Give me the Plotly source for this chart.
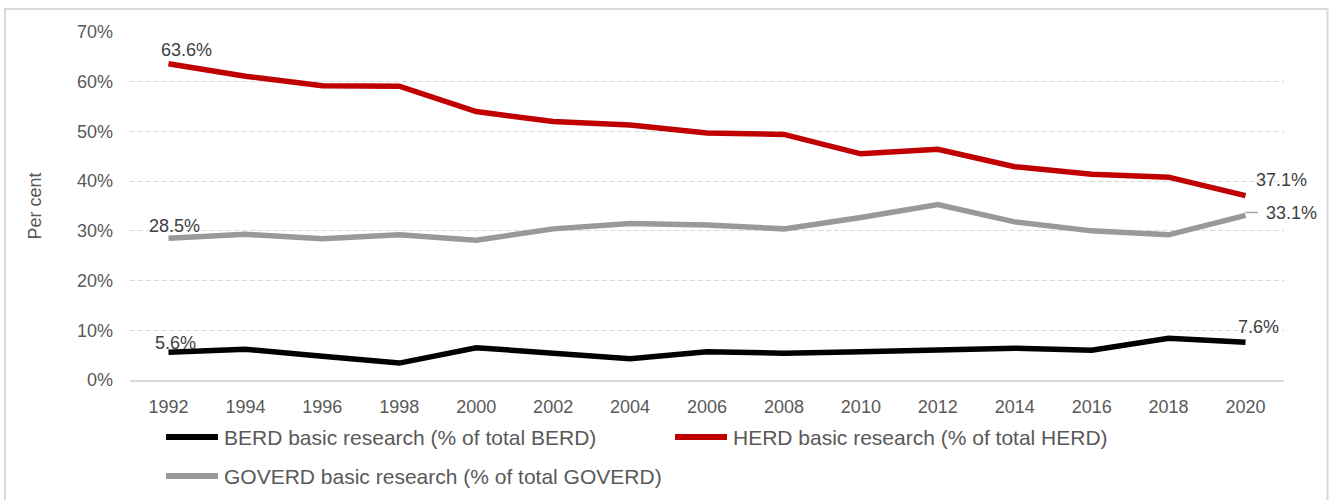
import plotly.graph_objects as go

# Share of R&D expenditure spent on basic research, by sector (per cent)
years = [1992, 1994, 1996, 1998, 2000, 2002, 2004, 2006, 2008, 2010, 2012, 2014, 2016, 2018, 2020]
berd = [5.6, 6.2, 4.8, 3.4, 6.5, 5.4, 4.3, 5.7, 5.4, 5.7, 6.0, 6.4, 6.0, 8.4, 7.6]
herd = [63.6, 61.1, 59.2, 59.1, 54.0, 52.0, 51.3, 49.7, 49.4, 45.5, 46.4, 42.9, 41.4, 40.8, 37.1]
goverd = [28.5, 29.3, 28.4, 29.2, 28.1, 30.4, 31.5, 31.2, 30.4, 32.7, 35.3, 31.8, 30.0, 29.2, 33.1]

series_names = [
    "BERD basic research (% of total BERD)",
    "HERD basic research (% of total HERD)",
    "GOVERD basic research (% of total GOVERD)",
]
series_colors = ["#000000", "#C00000", "#999999"]
y_ticks = [0, 10, 20, 30, 40, 50, 60, 70]

FONT = "Arial, 'Liberation Sans', sans-serif"
W, H = 1331, 500
ML, MR, MT, MB = 130, 47, 32, 120
PW, PH = W - ML - MR, H - MT - MB


def px_x(p):
    return (p - ML) / PW


def px_y(p):
    return (H - MB - p) / PH


fig = go.Figure()
for name, vals, col in zip(series_names, [berd, herd, goverd], series_colors):
    fig.add_trace(go.Scatter(
        x=years, y=vals, mode="lines", name=name,
        line=dict(color=col, width=5.5),
        showlegend=False, hoverinfo="x+y",
    ))

# value labels at the first and last points: (series, index, dx, dy)
label_spec = [
    (herd, 0, 18, 14), (goverd, 0, 6, 12), (berd, 0, 7, 9),
    (herd, -1, 36, 16), (goverd, -1, 46, 2), (berd, -1, 13, 15),
]
annotations = []
for vals, i, dx, dy in label_spec:
    annotations.append(dict(
        x=years[i], y=vals[i], xref="x", yref="y",
        text=f"{vals[i]:.1f}%", showarrow=False,
        xanchor="center", yanchor="middle", xshift=dx, yshift=dy,
        font=dict(family=FONT, size=18, color="#404040"),
    ))

shapes = []
# leader line for the GOVERD end label
shapes.append(dict(
    type="line", xref="x", yref="y",
    x0=years[-1], x1=years[-1] + 0.32, y0=goverd[-1] + 0.6, y1=goverd[-1] + 0.6,
    line=dict(color="#A6A6A6", width=1.5),
))

# legend drawn below the axis
legend_pos = [(164, 437), (673, 437), (164, 476)]
for name, col, (lx, ly) in zip(series_names, series_colors, legend_pos):
    shapes.append(dict(
        type="line", xref="paper", yref="paper",
        x0=px_x(lx + 2), x1=px_x(lx + 54), y0=px_y(ly), y1=px_y(ly),
        line=dict(color=col, width=6),
    ))
    annotations.append(dict(
        x=px_x(lx + 58), y=px_y(ly), xref="paper", yref="paper",
        text=name, showarrow=False, xanchor="left", yanchor="middle",
        font=dict(family=FONT, size=21, color="#595959"),
    ))

# chart-area border
shapes.append(dict(
    type="rect", xref="paper", yref="paper",
    x0=px_x(5), x1=px_x(1327.5), y0=px_y(520), y1=px_y(9),
    line=dict(color="#D9D9D9", width=2), fillcolor="rgba(0,0,0,0)", layer="below",
))

fig.update_layout(
    width=W, height=H,
    margin=dict(l=ML, r=MR, t=MT, b=MB, pad=0),
    paper_bgcolor="white", plot_bgcolor="white",
    font=dict(family=FONT, size=18, color="#595959"),
    annotations=annotations, shapes=shapes,
    showlegend=False,
)
fig.update_xaxes(
    range=[1991, 2021], tickmode="array", tickvals=years,
    ticktext=[str(y) for y in years],
    showgrid=False, zeroline=False,
    showline=True, linecolor="#D9D9D9", linewidth=1.5,
    ticks="", ticklabelstandoff=10,
    tickfont=dict(family=FONT, size=18, color="#595959"),
)
fig.update_yaxes(
    range=[0, 70], tickmode="array", tickvals=y_ticks,
    ticktext=[f"{v}%" for v in y_ticks],
    showgrid=True, gridcolor="#D9D9D9", gridwidth=1, griddash="5px,3px",
    zeroline=False, showline=False, ticks="", ticklabelstandoff=16,
    tickfont=dict(family=FONT, size=18, color="#595959"),
    title=dict(text="Per cent", standoff=30,
               font=dict(family=FONT, size=18, color="#595959")),
)

fig.write_html("out.html")
